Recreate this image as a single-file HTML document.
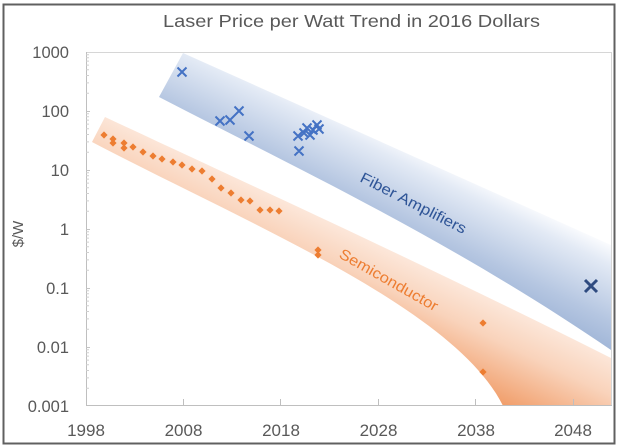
<!DOCTYPE html>
<html>
<head>
<meta charset="utf-8">
<style>
html,body{margin:0;padding:0;background:#fff;}
svg{display:block;}
</style>
</head>
<body>
<svg width="620" height="448" viewBox="0 0 620 448" xmlns="http://www.w3.org/2000/svg" xmlns:xlink="http://www.w3.org/1999/xlink" font-family="'Liberation Sans', Arial, sans-serif">
<defs>
  <clipPath id="pa"><rect x="86" y="52" width="526" height="354"/></clipPath>
  <linearGradient id="gb" gradientUnits="userSpaceOnUse" x1="420" y1="150" x2="378" y2="235">
    <stop offset="0" stop-color="#fbfcfe"/>
    <stop offset="0.2" stop-color="#e3eaf5"/>
    <stop offset="0.73" stop-color="#b5c6e1"/>
    <stop offset="1" stop-color="#a2b7d8"/>
  </linearGradient>
  <linearGradient id="go" gradientUnits="userSpaceOnUse" x1="338.6" y1="226" x2="299.8" y2="307">
    <stop offset="0" stop-color="#fce7da"/>
    <stop offset="0.39" stop-color="#f9d3bb"/>
    <stop offset="1" stop-color="#f19f6c"/>
  </linearGradient>
  <path id="dm" d="M0,-3.6 L3.6,0 L0,3.6 L-3.6,0 Z" fill="#ed7d31"/>
</defs>

<rect width="620" height="448" fill="#fff"/>

<!-- bands -->
<g clip-path="url(#pa)">
  <path d="M159,97 L183,53 L611,245 L640,258 L640,365 L611,350 C450,240 300,170 159,97 Z" fill="url(#gb)"/>
  <path d="M92,142 L105,117 C250,185 420,262 611,358 L640,372 L640,440 L520,440 L505,410 C460,310 250,225 92,142 Z" fill="url(#go)"/>
</g>

<!-- plot border / axes -->
<path d="M86.5,52.5 H611.5 V406" fill="none" stroke="#d6d6d6" stroke-width="1"/>
<path d="M86.5,52 V405.5 H612" fill="none" stroke="#bfbfbf" stroke-width="1"/>

<!-- x ticks -->
<path d="M183.5,406 V399 M280.5,406 V399 M378.5,406 V399 M475.5,406 V399 M573.5,406 V399" stroke="#bfbfbf" stroke-width="1" fill="none"/>

<!-- y minor ticks -->
<path stroke="#cfcfcf" stroke-width="1" fill="none" d="
M86,388.2h3M86,377.9h3M86,370.5h3M86,364.8h3M86,360.1h3M86,356.1h3M86,352.7h3M86,349.7h3
M86,329.2h3M86,318.9h3M86,311.5h3M86,305.8h3M86,301.1h3M86,297.1h3M86,293.7h3M86,290.7h3
M86,270.2h3M86,259.9h3M86,252.5h3M86,246.8h3M86,242.1h3M86,238.1h3M86,234.7h3M86,231.7h3
M86,211.2h3M86,200.9h3M86,193.5h3M86,187.8h3M86,183.1h3M86,179.1h3M86,175.7h3M86,172.7h3
M86,152.2h3M86,141.9h3M86,134.5h3M86,128.8h3M86,124.1h3M86,120.1h3M86,116.7h3M86,113.7h3
M86,93.2h3M86,82.9h3M86,75.5h3M86,69.8h3M86,65.1h3M86,61.1h3M86,57.7h3M86,54.7h3"/>
<path stroke="#c4c4c4" stroke-width="1" fill="none" d="M86,347.5h4M86,288.5h4M86,229.5h4M86,170.5h4M86,111.5h4"/>

<!-- orange diamonds -->
<g>
  <use xlink:href="#dm" x="104" y="135"/>
  <use xlink:href="#dm" x="113" y="139"/>
  <use xlink:href="#dm" x="113" y="143"/>
  <use xlink:href="#dm" x="124" y="143"/>
  <use xlink:href="#dm" x="124" y="148"/>
  <use xlink:href="#dm" x="133" y="147"/>
  <use xlink:href="#dm" x="143" y="152"/>
  <use xlink:href="#dm" x="153" y="156"/>
  <use xlink:href="#dm" x="162" y="159"/>
  <use xlink:href="#dm" x="173" y="162"/>
  <use xlink:href="#dm" x="182" y="165"/>
  <use xlink:href="#dm" x="192" y="169"/>
  <use xlink:href="#dm" x="202" y="171"/>
  <use xlink:href="#dm" x="212" y="179"/>
  <use xlink:href="#dm" x="221" y="188"/>
  <use xlink:href="#dm" x="231" y="193"/>
  <use xlink:href="#dm" x="241" y="200"/>
  <use xlink:href="#dm" x="250" y="201"/>
  <use xlink:href="#dm" x="260" y="210"/>
  <use xlink:href="#dm" x="270" y="210"/>
  <use xlink:href="#dm" x="279" y="211"/>
  <use xlink:href="#dm" x="318" y="250"/>
  <use xlink:href="#dm" x="318" y="255"/>
  <use xlink:href="#dm" x="483" y="323"/>
  <use xlink:href="#dm" x="483" y="372"/>
</g>

<!-- blue X markers -->
<path fill="none" stroke="#4472c4" stroke-width="2" d="
M177.5,67.5L186.5,76.5M186.5,67.5L177.5,76.5
M215.5,116.5L224.5,125.5M224.5,116.5L215.5,125.5
M225.5,115.5L234.5,124.5M234.5,115.5L225.5,124.5
M234.5,106.5L243.5,115.5M243.5,106.5L234.5,115.5
M244.5,131.5L253.5,140.5M253.5,131.5L244.5,140.5
M293.5,131.5L302.5,140.5M302.5,131.5L293.5,140.5
M294.5,146.5L303.5,155.5M303.5,146.5L294.5,155.5
M299.5,128.5L308.5,137.5M308.5,128.5L299.5,137.5
M302.5,123.5L311.5,132.5M311.5,123.5L302.5,132.5
M305.5,130.5L314.5,139.5M314.5,130.5L305.5,139.5
M308.5,125.5L317.5,134.5M317.5,125.5L308.5,134.5
M312.5,120.5L321.5,129.5M321.5,120.5L312.5,129.5
M314.5,124.5L323.5,133.5M323.5,124.5L314.5,133.5"/>
<path fill="none" stroke="#2f4b80" stroke-width="3" d="M585,280L597,292M597,280L585,292"/>

<!-- band labels -->
<text x="359" y="181" transform="rotate(27 359 181)" font-size="15" fill="#2f5597" textLength="117" lengthAdjust="spacingAndGlyphs">Fiber Amplifiers</text>
<text x="338" y="257" transform="rotate(29.5 338 257)" font-size="15" fill="#ed7d31" textLength="111" lengthAdjust="spacingAndGlyphs">Semiconductor</text>

<!-- title -->
<text x="351.5" y="27" text-anchor="middle" font-size="17.5" fill="#595959" textLength="377" lengthAdjust="spacingAndGlyphs">Laser Price per Watt Trend in 2016 Dollars</text>

<!-- y labels -->
<g font-size="16.5" fill="#595959" text-anchor="end">
  <text x="69" y="58">1000</text>
  <text x="69" y="117">100</text>
  <text x="69" y="176">10</text>
  <text x="69" y="235">1</text>
  <text x="69" y="294">0.1</text>
  <text x="69" y="353">0.01</text>
  <text x="69" y="412">0.001</text>
</g>

<!-- x labels -->
<g font-size="17" fill="#595959" text-anchor="middle">
  <text x="86" y="436">1998</text>
  <text x="183.5" y="436">2008</text>
  <text x="281" y="436">2018</text>
  <text x="378.5" y="436">2028</text>
  <text x="476" y="436">2038</text>
  <text x="573" y="436">2048</text>
</g>

<!-- y axis title -->
<text transform="translate(23,234) rotate(-90)" text-anchor="middle" font-size="15" fill="#595959">$/W</text>

<!-- outer frame -->
<rect x="3.5" y="4.5" width="611" height="439" fill="none" stroke="#606060" stroke-width="2"/>
</svg>
</body>
</html>
